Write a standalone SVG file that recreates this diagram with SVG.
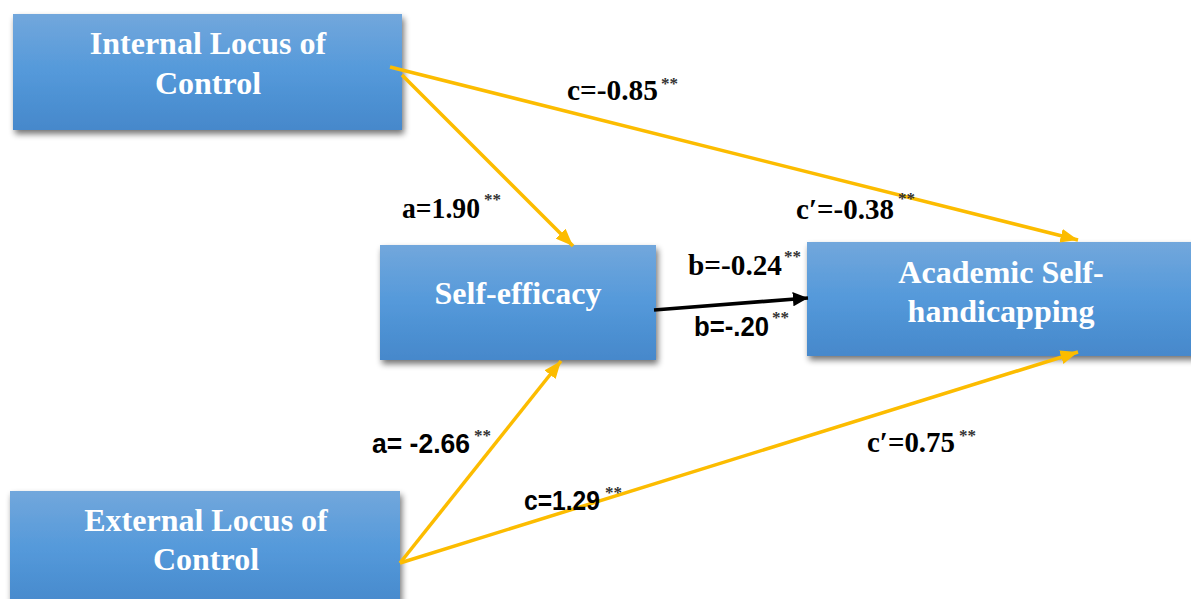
<svg xmlns="http://www.w3.org/2000/svg" width="1191" height="599" viewBox="0 0 1191 599">
  <defs>
    <linearGradient id="boxFill" x1="0" y1="0" x2="0" y2="1">
      <stop offset="0" stop-color="#72a7dc"/>
      <stop offset="0.5" stop-color="#5499da"/>
      <stop offset="1" stop-color="#4688cb"/>
    </linearGradient>
    <filter id="shadow" x="-10%" y="-10%" width="125%" height="135%">
      <feGaussianBlur in="SourceAlpha" stdDeviation="3"/>
      <feOffset dx="2" dy="4" result="b"/>
      <feComponentTransfer><feFuncA type="linear" slope="0.55"/></feComponentTransfer>
      <feMerge><feMergeNode/><feMergeNode in="SourceGraphic"/></feMerge>
    </filter>
    <marker id="arrY" markerWidth="5" markerHeight="4" refX="5" refY="2" orient="auto" markerUnits="strokeWidth">
      <path d="M0,0 L5,2 L0,4 Z" fill="#fcbc00"/>
    </marker>
    <marker id="arrK" markerWidth="4.2" markerHeight="4" refX="4.2" refY="2" orient="auto" markerUnits="strokeWidth">
      <path d="M0,0 L4.2,2 L0,4 Z" fill="#000"/>
    </marker>
  </defs>
  <style>
    .box { fill: url(#boxFill); filter: url(#shadow); }
    .node-text { font-family: "Liberation Serif", "Times New Roman", serif; font-weight: bold; font-size: 32px; fill: #ffffff; text-anchor: middle; }
    .lbl { font-family: "Liberation Serif", "Times New Roman", serif; font-weight: bold; font-size: 29px; fill: #000; }
    .lbl-sans { font-family: "Liberation Sans Narrow", "Liberation Sans", sans-serif; font-weight: bold; font-size: 27px; fill: #000; }
    .sup { font-family: "Liberation Serif", "Times New Roman", serif; font-weight: bold; font-size: 17px; fill: #333; }
    .y { stroke: #fcbc00; stroke-width: 3.5; fill: none; marker-end: url(#arrY); }
    .k { stroke: #000; stroke-width: 3.6; fill: none; marker-end: url(#arrK); }
  </style>

  <rect width="1191" height="599" fill="#ffffff"/>

  <g id="node-internal">
    <rect class="box" x="13" y="14" width="389" height="116"/>
    <text class="node-text" x="208" y="54">Internal Locus of</text>
    <text class="node-text" x="208" y="94">Control</text>
  </g>

  <g id="node-selfefficacy">
    <rect class="box" x="380" y="245" width="276" height="115"/>
    <text class="node-text" x="518" y="304">Self-efficacy</text>
  </g>

  <g id="node-academic">
    <rect class="box" x="807" y="242" width="390" height="114"/>
    <text class="node-text" x="1001" y="283">Academic Self-</text>
    <text class="node-text" x="1001" y="322">handicapping</text>
  </g>

  <g id="node-external">
    <rect class="box" x="10" y="491" width="390" height="118"/>
    <text class="node-text" x="206" y="531">External Locus of</text>
    <text class="node-text" x="206" y="570">Control</text>
  </g>

  <g id="connectors">
    <line class="y" x1="390" y1="67" x2="1078" y2="240"/>
    <line class="y" x1="402" y1="75" x2="573" y2="246"/>
    <line class="y" x1="400" y1="563" x2="561" y2="361"/>
    <line class="y" x1="400" y1="563" x2="1078" y2="352"/>
    <line class="k" x1="654" y1="310" x2="808" y2="298"/>
  </g>

  <g id="labels">
    <text class="lbl" x="567" y="100" textLength="91" lengthAdjust="spacingAndGlyphs">c=-0.85</text>
    <text class="sup" x="661" y="89">**</text>

    <text class="lbl" x="402" y="218" textLength="78" lengthAdjust="spacingAndGlyphs">a=1.90</text>
    <text class="sup" x="484" y="205">**</text>

    <text class="lbl" x="796" y="219" textLength="98" lengthAdjust="spacingAndGlyphs">c′=-0.38</text>
    <text class="sup" x="898" y="204">**</text>

    <text class="lbl" x="688" y="275" textLength="94" lengthAdjust="spacingAndGlyphs">b=-0.24</text>
    <text class="sup" x="784" y="262">**</text>

    <text class="lbl-sans" x="694" y="336" textLength="75" lengthAdjust="spacingAndGlyphs">b=-.20</text>
    <text class="sup" x="772" y="323">**</text>

    <text class="lbl-sans" x="372" y="453" textLength="98" lengthAdjust="spacingAndGlyphs">a= -2.66</text>
    <text class="sup" x="474" y="441">**</text>

    <text class="lbl-sans" x="524" y="510" textLength="76" lengthAdjust="spacingAndGlyphs">c=1.29</text>
    <text class="sup" x="605" y="498">**</text>

    <text class="lbl" x="867" y="452" textLength="88" lengthAdjust="spacingAndGlyphs">c′=0.75</text>
    <text class="sup" x="959" y="441">**</text>
  </g>
</svg>
